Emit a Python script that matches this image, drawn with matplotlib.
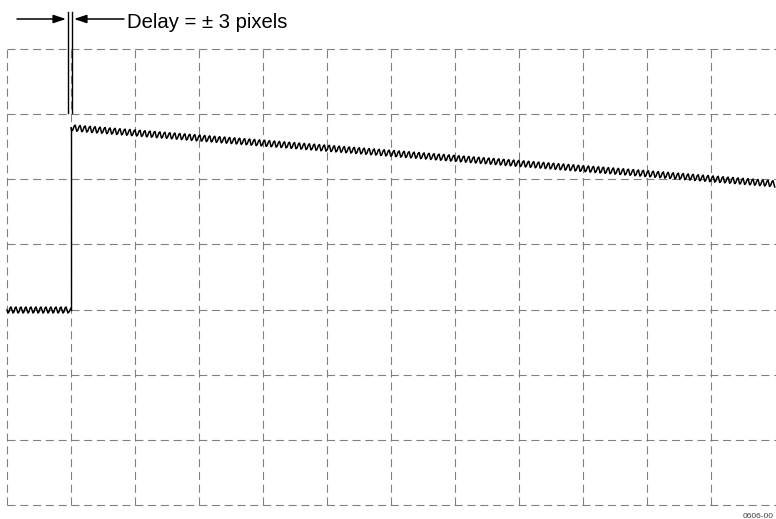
import numpy as np
from matplotlib import pyplot as plt

# scope trace with a noisy step, grid in divisions
plt.rcParams['lines.scale_dashes'] = False

# horizontal: 1 div = 64 px, vertical: 1 div = 65.14 px
N_XDIV = 12
N_YDIV = 7

# trace, in divisions
low_x = [0.0, 1.0]
low_y = [3.0, 3.0]
step_x = [1.0, 1.0]
step_y = [3.0, 5.79]
high_x = [1.0, 12.0]
high_y = [5.79, 4.93]

label_text = "Delay = \u00b1 3 pixels"
figure_id = "0606-00"

W, H = 776, 519
X0, XS = 7.0, 64.0
Y0, YS = 505.0, 456.0 / 7


def px(x):
    return (x - X0) / XS


def py(y):
    return (Y0 - y) / YS


fig = plt.figure(figsize=(W / 100, H / 100), dpi=100)
ax = fig.add_axes([0, 0, 1, 1])
ax.set_xlim(px(0), px(W))
ax.set_ylim(py(H), py(0))
ax.axis('off')

grid_kw = dict(color='#808080', lw=0.8, dashes=(5.8, 3.4))
for i in range(N_XDIV):
    ax.plot([i, i], [0, N_YDIV], **grid_kw)
for j in range(N_YDIV + 1):
    ax.plot([0, N_XDIV + 0.5], [j, j], **grid_kw)

# noisy segments: wiggle done with sketch (regular sine when randomness=1)
for xs, ys in [(low_x, low_y), (high_x, high_y)]:
    ln, = ax.plot(xs, ys, color='k', lw=1.1)
    ln.set_sketch_params(scale=3.2, length=5.0, randomness=1.0)
ax.plot(step_x, step_y, color='k', lw=1.0)

# delay marker
for xv in [px(67.5), px(72.3)]:
    ax.plot([xv, xv], [py(113), py(12)], color='k', lw=1.0)

arr = dict(arrowstyle='-|>,head_length=0.75,head_width=0.25', color='k',
           lw=1.1, shrinkA=0, shrinkB=0)
ya = py(19)
ax.annotate('', xy=(px(66), ya), xytext=(px(17), ya), arrowprops=arr)
ax.annotate('', xy=(px(74), ya), xytext=(px(124), ya), arrowprops=arr)

ax.text(px(127), py(27.5), label_text, fontsize=14.6, va='baseline', ha='left',
        family=['Liberation Sans Narrow', 'Liberation Sans', 'DejaVu Sans'])
ax.text(px(774), py(517.5), figure_id, fontsize=6, va='baseline', ha='right',
        color='#444444',
        family=['Liberation Sans Narrow', 'Liberation Sans', 'DejaVu Sans'])

fig.savefig('out.png', dpi=100)
